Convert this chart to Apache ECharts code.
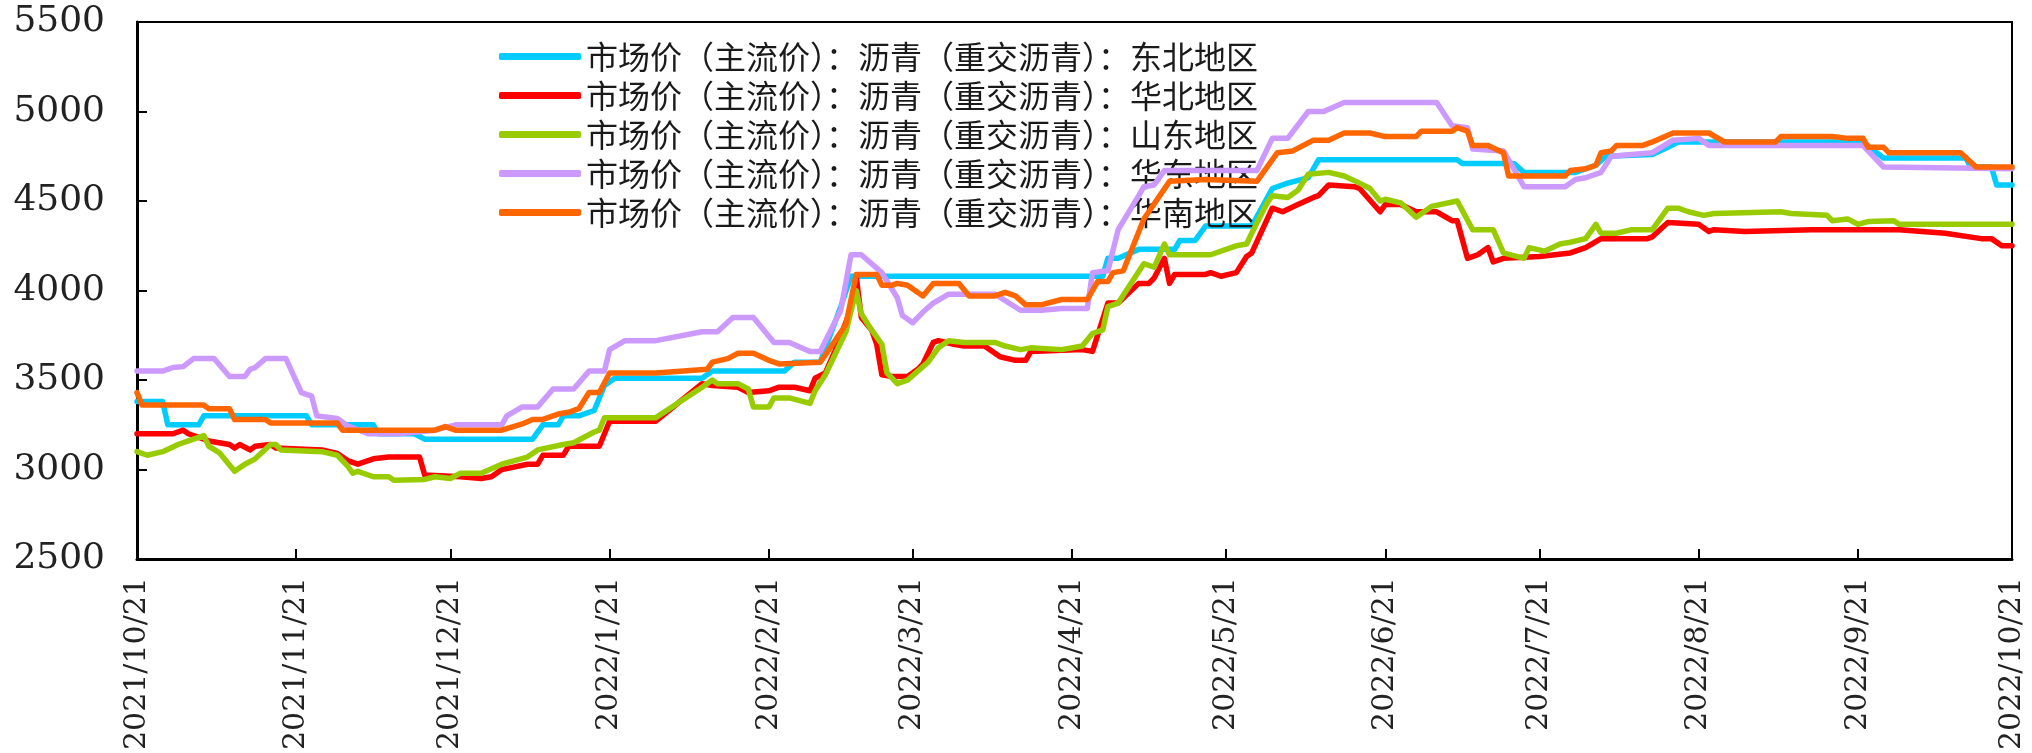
<!DOCTYPE html>
<html>
<head>
<meta charset="utf-8">
<script src="https://cdn.jsdelivr.net/npm/echarts@6/dist/echarts.min.js"></script>
<style>
html,body{margin:0;padding:0;background:#fff;}
#chart{width:2032px;height:753px;}
</style>
</head>
<body>
<div id="chart"></div>
<script>
// ---------- data ----------
const seriesNames = [
  '市场价（主流价）：沥青（重交沥青）：东北地区',
  '市场价（主流价）：沥青（重交沥青）：华北地区',
  '市场价（主流价）：沥青（重交沥青）：山东地区',
  '市场价（主流价）：沥青（重交沥青）：华东地区',
  '市场价（主流价）：沥青（重交沥青）：华南地区'
];
const seriesColors = ['#00CCFF', '#FF0000', '#99CC00', '#CC99FF', '#FF6600'];

const monthTicks = ['2021-10-21','2021-11-21','2021-12-21','2022-01-21','2022-02-21','2022-03-21',
  '2022-04-21','2022-05-21','2022-06-21','2022-07-21','2022-08-21','2022-09-21','2022-10-21'];
const yTicks = [2500, 3000, 3500, 4000, 4500, 5000, 5500];

// 东北地区
const dbDates = ['2021-10-21','2021-10-26','2021-10-27','2021-11-02','2021-11-03','2021-11-23','2021-11-24',
  '2021-12-06','2021-12-07','2021-12-14','2021-12-16','2022-01-06','2022-01-08','2022-01-11','2022-01-12',
  '2022-01-15','2022-01-18','2022-01-20','2022-01-22','2022-02-08','2022-02-10','2022-02-24','2022-02-26',
  '2022-03-03','2022-03-07','2022-03-09','2022-04-27','2022-04-28','2022-04-30','2022-05-04','2022-05-11',
  '2022-05-12','2022-05-15','2022-05-17','2022-05-26','2022-05-30','2022-06-02','2022-06-06','2022-06-08',
  '2022-07-05','2022-07-06','2022-07-16','2022-07-18','2022-07-28','2022-08-01','2022-08-03','2022-08-12',
  '2022-08-15','2022-08-17','2022-09-22','2022-09-26','2022-10-12','2022-10-13','2022-10-17','2022-10-18',
  '2022-10-21'];
const dbValues = [3380,3380,3250,3250,3300,3300,3250,
  3250,3200,3200,3170,3170,3250,3250,3300,
  3300,3330,3470,3510,3510,3550,3550,3600,
  3600,3910,4080,4080,4180,4180,4230,4230,
  4280,4280,4360,4360,4570,4600,4630,4730,
  4730,4710,4710,4660,4660,4700,4750,4760,
  4800,4830,4830,4740,4740,4690,4690,4590,
  4590];

// 华北地区
const hbDates = ['2021-10-21','2021-10-28','2021-10-30','2021-10-31','2021-11-04','2021-11-08','2021-11-09',
  '2021-11-10','2021-11-12','2021-11-13','2021-11-16','2021-11-17','2021-11-26','2021-11-29','2021-12-01',
  '2021-12-03','2021-12-06','2021-12-09','2021-12-15','2021-12-16','2021-12-23','2021-12-27','2021-12-29',
  '2021-12-31','2022-01-05','2022-01-07','2022-01-08','2022-01-12','2022-01-13','2022-01-19','2022-01-21',
  '2022-01-30','2022-02-08','2022-02-10','2022-02-15','2022-02-17','2022-02-21','2022-02-23','2022-02-26',
  '2022-03-01','2022-03-02','2022-03-04','2022-03-06','2022-03-09','2022-03-10','2022-03-11','2022-03-13',
  '2022-03-14','2022-03-15','2022-03-17','2022-03-20','2022-03-22','2022-03-23','2022-03-25','2022-03-26',
  '2022-03-29','2022-03-31','2022-04-04','2022-04-07','2022-04-10','2022-04-12','2022-04-13','2022-04-23',
  '2022-04-25','2022-04-28','2022-04-30','2022-05-04','2022-05-06','2022-05-07','2022-05-09','2022-05-10',
  '2022-05-11','2022-05-17','2022-05-18','2022-05-20','2022-05-23','2022-05-25','2022-05-26','2022-05-30',
  '2022-06-01','2022-06-04','2022-06-07','2022-06-08','2022-06-10','2022-06-15','2022-06-16','2022-06-20',
  '2022-06-21','2022-06-24','2022-06-27','2022-07-01','2022-07-04','2022-07-05','2022-07-07','2022-07-09',
  '2022-07-11','2022-07-12','2022-07-14','2022-07-21','2022-07-24','2022-07-27','2022-07-30','2022-08-02',
  '2022-08-11','2022-08-12','2022-08-15','2022-08-21','2022-08-23','2022-08-24','2022-08-30','2022-09-12',
  '2022-09-29','2022-10-08','2022-10-15','2022-10-17','2022-10-19','2022-10-21'];
const hbValues = [3200,3200,3220,3200,3160,3140,3120,
  3140,3110,3130,3140,3120,3110,3090,3050,
  3030,3060,3070,3070,2970,2960,2950,2960,
  3000,3030,3030,3080,3080,3130,3130,3270,
  3270,3480,3470,3460,3430,3440,3460,3460,
  3440,3510,3540,3670,3900,4080,3850,3780,
  3700,3530,3520,3520,3560,3590,3710,3720,
  3700,3690,3690,3630,3610,3610,3660,3670,
  3660,3930,3930,4040,4040,4070,4180,4040,
  4090,4090,4100,4080,4100,4190,4210,4460,
  4440,4480,4520,4530,4590,4580,4570,4440,
  4480,4480,4440,4440,4390,4390,4180,4200,
  4240,4160,4180,4190,4200,4210,4240,4290,
  4290,4300,4380,4370,4330,4340,4330,4340,
  4340,4320,4290,4290,4250,4250];

// 山东地区
const sdDates = ['2021-10-21','2021-10-23','2021-10-26','2021-10-29','2021-10-31','2021-11-03','2021-11-04',
  '2021-11-06','2021-11-09','2021-11-11','2021-11-13','2021-11-16','2021-11-17','2021-11-18','2021-11-26',
  '2021-11-29','2021-12-01','2021-12-02','2021-12-03','2021-12-06','2021-12-09','2021-12-10','2021-12-16',
  '2021-12-18','2021-12-21','2021-12-23','2021-12-27','2021-12-31','2022-01-05','2022-01-07','2022-01-12',
  '2022-01-14','2022-01-18','2022-01-19','2022-01-20','2022-01-30','2022-02-08','2022-02-10','2022-02-11',
  '2022-02-15','2022-02-17','2022-02-18','2022-02-21','2022-02-22','2022-02-25','2022-03-01','2022-03-02',
  '2022-03-04','2022-03-06','2022-03-08','2022-03-10','2022-03-11','2022-03-13','2022-03-15','2022-03-16',
  '2022-03-18','2022-03-20','2022-03-22','2022-03-24','2022-03-26','2022-03-28','2022-03-31','2022-04-06',
  '2022-04-08','2022-04-11','2022-04-13','2022-04-19','2022-04-23','2022-04-25','2022-04-27','2022-04-28',
  '2022-04-30','2022-05-05','2022-05-07','2022-05-09','2022-05-10','2022-05-18','2022-05-21','2022-05-23',
  '2022-05-25','2022-05-26','2022-05-29','2022-05-30','2022-06-02','2022-06-04','2022-06-06','2022-06-10',
  '2022-06-13','2022-06-16','2022-06-18','2022-06-20','2022-06-21','2022-06-24','2022-06-27','2022-06-30',
  '2022-07-05','2022-07-08','2022-07-12','2022-07-14','2022-07-18','2022-07-19','2022-07-22','2022-07-25',
  '2022-07-27','2022-07-30','2022-08-01','2022-08-02','2022-08-05','2022-08-08','2022-08-12','2022-08-15',
  '2022-08-17','2022-08-19','2022-08-22','2022-08-24','2022-09-06','2022-09-08','2022-09-15','2022-09-16',
  '2022-09-19','2022-09-21','2022-09-23','2022-09-28','2022-09-29','2022-10-21'];
const sdValues = [3100,3080,3100,3140,3160,3190,3130,
  3095,2990,3030,3060,3140,3140,3110,3100,
  3080,3020,2980,2990,2960,2960,2940,2945,
  2960,2950,2980,2980,3030,3070,3110,3140,
  3150,3210,3220,3290,3290,3460,3500,3480,
  3480,3450,3350,3350,3400,3400,3370,3440,
  3530,3650,3770,4000,3870,3780,3700,3540,
  3480,3500,3550,3600,3680,3720,3710,3710,
  3690,3670,3680,3670,3690,3760,3780,3910,
  3930,4150,4130,4260,4200,4200,4230,4250,
  4260,4320,4490,4530,4520,4560,4650,4660,
  4640,4600,4570,4500,4510,4490,4410,4470,
  4500,4340,4340,4210,4180,4240,4220,4260,
  4270,4290,4370,4320,4320,4340,4340,4460,
  4460,4440,4420,4430,4440,4430,4420,4390,
  4400,4370,4385,4390,4370,4370];

// 华东地区
const hdDates = ['2021-10-21','2021-10-26','2021-10-28','2021-10-30','2021-11-01','2021-11-05','2021-11-08',
  '2021-11-11','2021-11-12','2021-11-13','2021-11-15','2021-11-19','2021-11-22','2021-11-24','2021-11-25',
  '2021-11-29','2021-12-01','2021-12-05','2021-12-11','2021-12-18','2021-12-22','2021-12-31','2022-01-01',
  '2022-01-04','2022-01-07','2022-01-10','2022-01-14','2022-01-17','2022-01-20','2022-01-21','2022-01-24',
  '2022-01-30','2022-02-08','2022-02-11','2022-02-14','2022-02-18','2022-02-22','2022-02-25','2022-03-01',
  '2022-03-03','2022-03-07','2022-03-09','2022-03-11','2022-03-15','2022-03-18','2022-03-19','2022-03-21',
  '2022-03-23','2022-03-25','2022-03-28','2022-04-06','2022-04-11','2022-04-15','2022-04-19','2022-04-24',
  '2022-04-25','2022-04-28','2022-04-30','2022-05-04','2022-05-05','2022-05-07','2022-05-09','2022-05-27',
  '2022-05-30','2022-06-02','2022-06-06','2022-06-09','2022-06-13','2022-07-01','2022-07-04','2022-07-07',
  '2022-07-08','2022-07-14','2022-07-18','2022-07-26','2022-07-28','2022-07-30','2022-08-02','2022-08-04',
  '2022-08-12','2022-08-16','2022-08-21','2022-08-23','2022-09-22','2022-09-26','2022-10-21'];
const hdValues = [3550,3550,3570,3575,3620,3620,3520,
  3520,3560,3570,3620,3620,3430,3410,3300,
  3285,3245,3200,3200,3220,3250,3250,3300,
  3350,3350,3450,3450,3550,3550,3670,3720,
  3720,3770,3770,3850,3850,3710,3710,3660,
  3660,3890,4200,4200,4100,3960,3860,3820,
  3880,3930,3980,3980,3890,3890,3900,3900,
  4100,4110,4340,4530,4580,4590,4670,4670,
  4850,4850,5000,5000,5050,5050,4920,4910,
  4790,4780,4580,4580,4620,4630,4660,4750,
  4770,4840,4850,4810,4810,4690,4680];

// 华南地区
const hnDates = ['2021-10-21','2021-10-22','2021-11-03','2021-11-04','2021-11-08','2021-11-09','2021-11-15',
  '2021-11-16','2021-11-29','2021-11-30','2021-12-18','2021-12-20','2021-12-22','2021-12-31','2022-01-04',
  '2022-01-06','2022-01-08','2022-01-11','2022-01-13','2022-01-15','2022-01-17','2022-01-19','2022-01-21',
  '2022-01-30','2022-02-09','2022-02-10','2022-02-13','2022-02-15','2022-02-18','2022-02-21','2022-02-23',
  '2022-03-03','2022-03-04','2022-03-08','2022-03-10','2022-03-14','2022-03-15','2022-03-17','2022-03-18',
  '2022-03-20','2022-03-23','2022-03-25','2022-03-30','2022-04-01','2022-04-06','2022-04-08','2022-04-10',
  '2022-04-12','2022-04-15','2022-04-19','2022-04-24','2022-04-26','2022-04-28','2022-04-29','2022-05-01',
  '2022-05-05','2022-05-10','2022-05-17','2022-05-27','2022-05-31','2022-06-03','2022-06-07','2022-06-10',
  '2022-06-13','2022-06-18','2022-06-21','2022-06-27','2022-06-28','2022-07-04','2022-07-05','2022-07-07',
  '2022-07-08','2022-07-11','2022-07-14','2022-07-15','2022-07-26','2022-07-27','2022-07-30','2022-08-01',
  '2022-08-02','2022-08-04','2022-08-05','2022-08-10','2022-08-12','2022-08-16','2022-08-23','2022-08-26',
  '2022-09-05','2022-09-06','2022-09-16','2022-09-19','2022-09-22','2022-09-23','2022-09-26','2022-09-27',
  '2022-10-11','2022-10-14','2022-10-21'];
const hnValues = [3430,3360,3360,3340,3340,3280,3280,
  3260,3260,3220,3220,3240,3220,3220,3255,
  3280,3280,3310,3320,3340,3430,3430,3540,
  3540,3560,3600,3620,3650,3650,3610,3590,
  3600,3640,3810,4090,4090,4030,4030,4040,
  4030,3970,4040,4040,3970,3970,3990,3970,
  3920,3920,3950,3950,4050,4050,4100,4110,
  4400,4610,4620,4610,4770,4780,4840,4840,
  4880,4880,4860,4860,4890,4890,4910,4890,
  4810,4810,4770,4640,4640,4670,4680,4700,
  4770,4780,4810,4810,4830,4880,4880,4830,
  4830,4860,4860,4850,4850,4800,4800,4770,
  4770,4690,4690];

// ---------- build chart ----------
function ts(s) { const p = s.split('-').map(Number); return new Date(p[0], p[1] - 1, p[2]).getTime(); }
function zip(dates, vals) { return dates.map((d, i) => [ts(d), vals[i]]); }
const allDates = [dbDates, hbDates, sdDates, hdDates, hnDates];
const allValues = [dbValues, hbValues, sdValues, hdValues, hnValues];
const tickTs = monthTicks.map(ts);

const chart = echarts.init(document.getElementById('chart'), null, {renderer: 'canvas'});
const serif = 'DejaVu Serif';
const option = {
  animation: false,
  backgroundColor: '#ffffff',
  color: seriesColors,
  grid: {left: 137, right: 20, top: 22, bottom: 192, show: true, borderColor: '#000', borderWidth: 2, containLabel: false},
  legend: {
    orient: 'vertical', left: 494, top: 32,
    itemWidth: 82, itemHeight: 7, itemGap: 0, icon: 'roundRect',
    textStyle: {fontFamily: 'Noto Sans CJK SC', fontSize: 32, color: '#1a1a1a', lineHeight: 39},
    data: seriesNames
  },
  xAxis: {
    type: 'value',
    min: tickTs[0], max: tickTs[tickTs.length - 1],
    axisLine: {show: true, lineStyle: {color: '#000', width: 3}},
    axisTick: {show: true, inside: true, length: 10, lineStyle: {color: '#000', width: 2}, customValues: tickTs},
    axisLabel: {
      show: true, rotate: 90, margin: 18, customValues: tickTs,
      fontFamily: serif, fontSize: 30, color: '#222',
      formatter: function (v) { const d = new Date(v); return d.getFullYear() + '/' + (d.getMonth() + 1) + '/' + d.getDate(); }
    },
    splitLine: {show: false}
  },
  yAxis: {
    type: 'value', min: yTicks[0], max: yTicks[yTicks.length - 1], interval: 500,
    axisLine: {show: true, lineStyle: {color: '#000', width: 3}},
    axisTick: {show: true, inside: true, length: 10, lineStyle: {color: '#000', width: 2}},
    axisLabel: {fontFamily: serif, fontSize: 36, color: '#222', margin: 32,
      formatter: function (v) { return String(v); }},
    splitLine: {show: false}
  },
  series: seriesNames.map((name, i) => ({
    name: name, type: 'line', showSymbol: false, symbol: 'none',
    lineStyle: {width: 5.5, color: seriesColors[i], join: 'round', cap: 'round'},
    itemStyle: {color: seriesColors[i]},
    data: zip(allDates[i], allValues[i]),
    z: 2 + i
  }))
};
chart.setOption(option);
</script>
</body>
</html>
